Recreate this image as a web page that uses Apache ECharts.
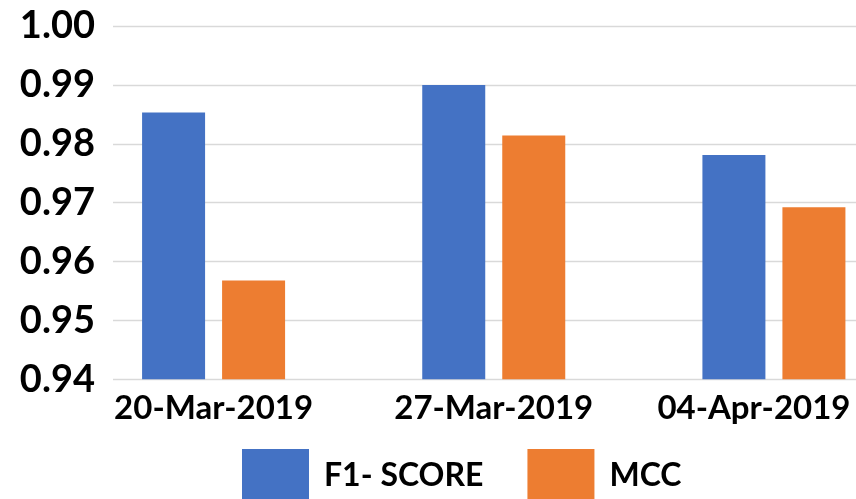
<!DOCTYPE html>
<html>
<head>
<meta charset="utf-8">
<script src="https://cdn.jsdelivr.net/npm/echarts@6/dist/echarts.min.js"></script>
<style>
html,body{margin:0;padding:0;background:#fff;overflow:hidden;width:856px;height:499px;}
#chart{width:914px;height:499px;}
</style>
</head>
<body>
<div id="chart"></div>
<script>
const categories = ['20-Mar-2019', '27-Mar-2019', '04-Apr-2019'];
const f1Score = [0.9853, 0.9900, 0.9781];
const mcc = [0.9568, 0.9814, 0.9692];
const yMin = 0.94, yMax = 1.00, yStep = 0.01;

const FONT = 'Lato';
// last category label is nudged left so it stays inside the picture (as in the original)
const categoryData = categories.map((c, i) => i === categories.length - 1
  ? {value: c, textStyle: {padding: [0, 40, 0, 0]}}
  : c);

// legend swatch: filled block in the lower part of the icon box (runs off the bottom edge like the original)
const swatch = 'path://M0,0 L0,0 Z M0,13.5 L67,13.5 L67,80 L0,80 Z';

const chart = echarts.init(document.getElementById('chart'), null, {renderer: 'canvas'});
chart.setOption({
  animation: false,
  backgroundColor: '#ffffff',
  grid: [
    {left: 73.5, right: 0, top: 26, bottom: 119.7, containLabel: false},
    {left: 113, right: 58, top: 26, bottom: 119.7, containLabel: false}
  ],
  xAxis: [
    {
      type: 'category', gridIndex: 0, data: categoryData,
      axisLine: {show: false}, axisTick: {show: false},
      axisLabel: {fontFamily: FONT, fontWeight: 'bold', fontSize: 33, color: '#000', margin: 13, interval: 0}
    },
    {type: 'value', gridIndex: 1, min: 0, max: 1, show: false}
  ],
  yAxis: [
    {type: 'value', gridIndex: 0, min: yMin, max: yMax, interval: yStep, show: false, splitLine: {show: false}},
    {
      type: 'value', gridIndex: 1, min: yMin, max: yMax, interval: yStep,
      axisLine: {show: false}, axisTick: {show: false},
      splitLine: {show: true, lineStyle: {color: '#d9d9d9', width: 1.3}},
      axisLabel: {
        fontFamily: FONT, fontWeight: 'bold', fontSize: 38, color: '#000', margin: 18,
        formatter: v => v.toFixed(2)
      }
    }
  ],
  legend: {
    left: 242, top: 435.5, padding: 0,
    itemWidth: 67, itemHeight: 80, itemGap: 44,
    icon: swatch,
    textStyle: {fontFamily: FONT, fontWeight: 'bold', fontSize: 32, color: '#000', padding: [0, 0, 0, 10]},
    data: ['F1- SCORE', 'MCC']
  },
  series: [
    {
      name: 'F1- SCORE', type: 'bar', xAxisIndex: 0, yAxisIndex: 0, data: f1Score,
      barWidth: 63, barGap: '27%', itemStyle: {color: '#4472C4'}
    },
    {
      name: 'MCC', type: 'bar', xAxisIndex: 0, yAxisIndex: 0, data: mcc,
      barWidth: 63, barGap: '27%', itemStyle: {color: '#ED7D31'}
    }
  ]
});
</script>
</body>
</html>
